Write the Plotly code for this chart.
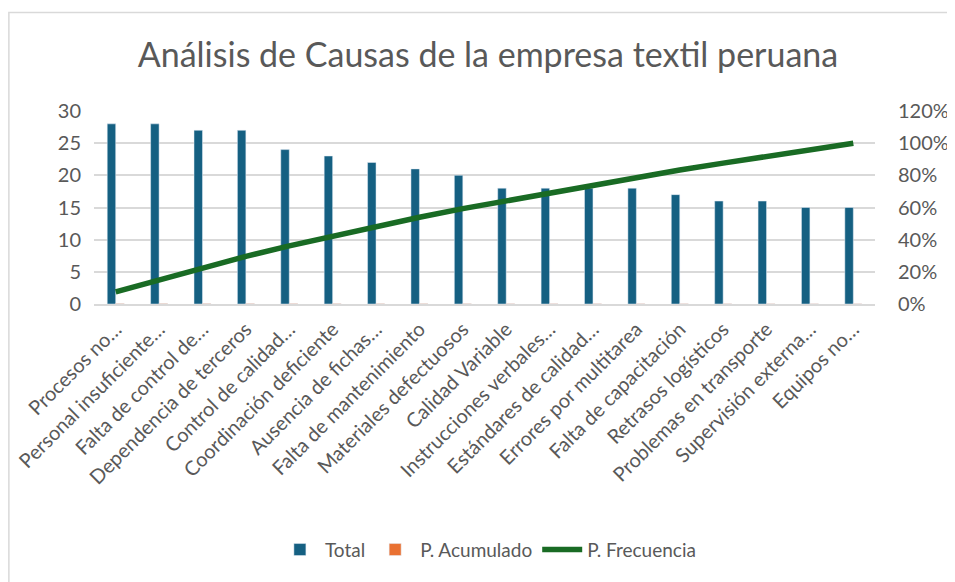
import plotly.graph_objects as go

categories = [
    "Procesos no…", "Personal insuficiente…", "Falta de control de…",
    "Dependencia de terceros", "Control de calidad…", "Coordinación deficiente",
    "Ausencia de fichas…", "Falta de mantenimiento", "Materiales defectuosos",
    "Calidad Variable", "Instrucciones verbales…", "Estándares de calidad…",
    "Errores por multitarea", "Falta de capacitación", "Retrasos logísticos",
    "Problemas en transporte", "Supervisión externa…", "Equipos no…",
]
total = [28, 28, 27, 27, 24, 23, 22, 21, 20, 18, 18, 18, 18, 17, 16, 16, 15, 15]
p_acumulado = [0.075, 0.075, 0.073, 0.073, 0.065, 0.062, 0.059, 0.057, 0.054,
               0.049, 0.049, 0.049, 0.049, 0.046, 0.043, 0.043, 0.040, 0.040]
p_frecuencia = [0.075, 0.151, 0.224, 0.296, 0.361, 0.423, 0.482, 0.539, 0.593,
                0.642, 0.690, 0.739, 0.787, 0.833, 0.876, 0.919, 0.960, 1.000]

FONT = "Lato"
GRAY = "#595959"

fig = go.Figure()
fig.add_trace(go.Bar(x=categories, y=total, name="Total", marker_color="#156082"))
fig.add_trace(go.Bar(x=categories, y=p_acumulado, name="P. Acumulado", marker_color="#E97132"))
fig.add_trace(go.Scatter(x=categories, y=p_frecuencia, name="P. Frecuencia", yaxis="y2",
                         mode="lines", line=dict(color="#196B24", width=5.5)))

fig.update_layout(
    width=955, height=582,
    margin=dict(l=86, r=88, t=103, b=286, autoexpand=False),
    paper_bgcolor="white", plot_bgcolor="white",
    font=dict(family=FONT, color=GRAY, size=19),
    title=dict(text="Análisis de Causas de la empresa textil peruana",
               xref="container", x=0.5026, xanchor="center",
               yref="container", y=0.919, yanchor="middle",
               font=dict(size=34, color=GRAY, family=FONT)),
    barmode="group", bargap=0.61, bargroupgap=0,
    xaxis=dict(tickangle=-45, tickfont=dict(size=20, color=GRAY), showgrid=False,
               showline=True, linecolor="#d9d9d9", linewidth=1.5, ticks="",
               ticklabelstandoff=4),
    yaxis=dict(range=[0, 30], dtick=5, showgrid=True, gridcolor="#d9d9d9", gridwidth=1.5,
               zeroline=False, tickfont=dict(size=20, color=GRAY), ticks="",
               ticklabelstandoff=12),
    yaxis2=dict(range=[0, 1.2], dtick=0.2, tickformat=".0%", overlaying="y", side="right",
                showgrid=False, zeroline=False, tickfont=dict(size=20, color=GRAY), ticks="",
                ticklabelstandoff=22),
    legend=dict(orientation="h", x=0.505, xanchor="center", y=-1.273, yanchor="middle",
                font=dict(size=19, color=GRAY), traceorder="normal", itemwidth=40),
    shapes=[dict(type="rect", xref="paper", yref="paper", x0=-0.109, x1=1.13,
                 y0=-1.6, y1=1.511, line=dict(color="#d9d9d9", width=1.5))],
)

fig.write_html("out.html")
